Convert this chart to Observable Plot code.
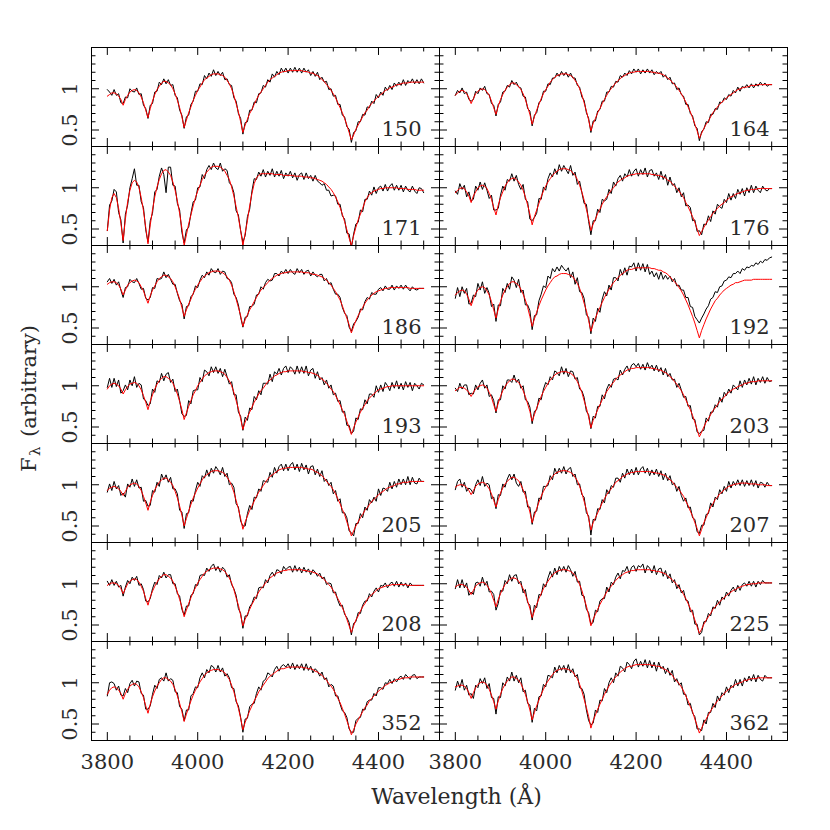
<!DOCTYPE html>
<html><head><meta charset="utf-8">
<script src="https://cdn.jsdelivr.net/npm/d3@7"></script>
<script src="https://cdn.jsdelivr.net/npm/@observablehq/plot@0.6"></script>
<style>html,body{margin:0;padding:0;background:#fff}</style>
</head><body><div id="chart"></div>
<script>
// Panel names, in reading order (left/right, top to bottom)
const panelNames = ["150","164","171","176","186","192","193","203","205","207","208","225","352","362"];
// Both spectra are sampled every 5 Å from 3800 Å to 4500 Å (141 samples); flux in units of 0.01
const lamStart = 3800, lamStep = 5;
const xTickLabels = [3800, 4000, 4200, 4400];
const yTickLabels = [0.5, 1];

// Model fits (red)
const model150 = [91,93,95,95,94,91,87,80,87,92,96,98,99,98,95,90,83,74,65,76,85,93,99,103,107,109,109,107,105,100,94,86,77,66,53,62,71,78,86,92,98,102,107,111,113,115,117,118,118,118,117,116,114,110,106,100,92,82,72,60,47,56,63,70,75,81,87,92,96,100,104,108,111,113,115,117,119,120,121,121,122,122,122,122,122,122,122,121,121,120,119,119,117,116,114,111,109,105,102,98,94,89,83,77,71,64,56,47,38,44,51,56,61,66,71,74,79,82,85,88,91,93,95,98,99,101,102,103,105,105,106,107,107,107,108,108,108,108,108,108,108];
const model164 = [92,95,97,98,97,94,89,82,88,94,97,99,100,99,96,92,85,77,69,79,87,93,98,102,105,107,107,105,103,99,94,87,78,69,57,66,74,81,88,94,99,103,108,111,114,116,117,118,118,118,117,116,114,110,106,100,93,83,73,62,49,58,64,71,76,82,87,92,97,100,104,107,110,112,115,116,118,119,120,120,121,121,121,121,121,121,121,120,120,119,119,118,117,115,113,111,108,105,102,98,94,89,84,78,72,65,57,49,40,46,52,57,61,66,71,74,78,81,84,86,89,91,93,95,97,99,100,101,102,102,103,104,104,104,105,105,105,105,105,105,105];
const model171 = [48,73,88,93,88,75,57,36,62,83,97,106,109,107,100,88,72,52,32,55,73,89,101,110,117,121,122,119,115,107,97,84,69,51,30,43,56,67,78,88,96,103,110,115,119,122,125,126,126,126,125,123,120,115,110,101,90,77,64,48,30,45,60,78,93,105,112,115,117,117,117,117,117,117,116,116,116,116,115,115,115,115,115,114,114,114,114,113,113,113,112,112,111,110,109,108,106,104,101,98,94,89,83,76,68,59,49,39,30,42,52,61,68,75,83,88,92,94,96,97,98,99,99,100,100,100,100,100,100,99,99,99,99,98,98,98,98,97,97,97,97];
const model176 = [94,97,99,100,99,95,90,82,90,95,100,102,103,102,99,93,86,76,67,79,88,95,102,106,110,111,112,110,107,103,97,89,79,68,55,65,73,81,89,96,102,107,111,115,118,120,122,123,123,123,122,121,118,115,110,103,95,85,74,62,48,56,62,69,74,80,85,89,93,97,100,104,107,109,111,112,114,115,116,116,117,117,117,117,117,117,117,116,116,115,115,114,113,112,109,108,105,102,99,96,92,88,82,77,71,65,58,50,42,47,52,57,61,65,69,72,75,78,80,82,85,87,89,90,92,93,94,95,96,97,97,98,98,98,99,99,99,99,99,99,99];
const model186 = [103,105,106,106,105,102,97,90,96,102,105,107,108,107,105,100,95,87,80,89,96,101,106,110,112,114,114,112,110,106,100,93,85,75,64,72,79,85,92,97,102,106,110,113,115,117,118,119,119,119,118,117,115,112,108,102,94,85,75,65,52,60,66,72,77,82,87,92,96,99,102,105,108,110,112,114,115,116,117,117,118,118,118,118,118,118,118,117,117,117,116,115,115,114,113,112,110,108,105,102,98,94,89,84,77,69,62,54,44,52,59,65,70,75,80,84,87,90,92,94,95,96,97,98,98,99,99,99,99,99,99,99,99,99,98,98,98,98,98,98,98];
const model192 = [90,93,95,96,95,91,85,77,85,92,96,99,100,99,95,90,82,72,62,73,82,90,96,100,104,106,106,104,102,97,91,84,75,64,52,61,69,77,84,90,96,101,105,109,112,113,115,116,116,116,115,114,112,108,104,98,90,80,71,59,46,55,62,69,75,81,87,92,97,101,105,108,111,114,116,118,120,121,121,122,123,123,123,123,123,123,123,122,122,121,120,120,118,117,115,112,109,106,103,99,95,90,84,78,71,64,56,47,38,47,54,61,67,73,78,83,86,90,93,96,98,100,102,103,105,105,106,107,108,108,108,108,109,109,109,109,109,109,109,109,109];
const model193 = [96,100,102,103,102,100,96,90,95,99,102,103,104,103,100,95,88,80,71,81,89,96,102,106,109,111,111,109,107,103,97,90,81,71,59,67,75,82,89,94,100,104,108,112,114,116,117,118,118,118,117,116,114,110,106,100,92,82,72,60,47,56,62,68,74,80,85,90,94,97,101,105,107,109,112,113,115,116,117,117,118,118,118,118,118,118,118,117,117,116,116,115,114,113,110,108,106,103,100,96,93,88,83,77,71,65,57,49,41,49,56,62,68,73,77,82,85,88,90,93,95,96,97,98,99,99,100,100,100,100,100,100,100,100,100,100,100,100,100,100,100];
const model203 = [94,96,98,98,97,95,92,87,92,96,99,100,101,100,97,92,86,77,69,79,87,94,99,103,106,108,108,106,104,100,94,87,78,69,57,65,73,80,87,93,98,103,107,110,113,115,116,117,117,117,116,115,113,110,105,99,92,82,73,62,49,58,64,71,77,83,88,93,97,101,104,108,111,113,115,117,119,120,121,121,122,122,122,122,122,122,122,121,121,120,119,119,117,116,114,111,109,105,102,98,94,89,83,77,71,64,56,47,38,44,50,56,60,65,70,73,77,81,84,86,90,92,94,96,97,99,100,101,103,103,104,105,105,105,106,106,106,106,106,106,106];
const model205 = [93,96,97,98,97,95,92,87,92,97,100,101,102,101,98,93,86,78,69,79,87,94,99,103,106,108,108,106,103,99,92,84,74,63,50,59,68,76,84,90,96,101,106,110,112,114,116,117,117,117,116,115,113,109,105,99,91,81,71,59,46,55,62,69,74,80,86,91,95,99,103,107,110,112,114,116,118,119,120,120,121,121,121,121,121,121,121,120,120,119,119,118,116,115,113,111,108,104,101,98,94,89,83,77,70,64,55,47,38,44,50,55,60,64,69,72,76,80,82,85,88,90,92,94,96,97,98,99,101,101,102,103,103,103,104,104,104,104,104,104,104];
const model207 = [97,99,100,100,99,97,93,88,93,98,101,102,103,102,99,95,89,81,73,82,90,96,101,104,107,109,109,107,105,100,94,87,77,67,54,63,71,79,86,92,97,102,106,110,113,115,116,117,117,117,116,115,113,109,105,98,90,80,70,59,45,54,60,66,72,78,83,88,92,95,99,103,105,107,110,111,113,114,115,115,116,116,116,116,116,116,116,115,115,114,114,113,112,111,108,106,104,100,97,94,90,86,80,75,68,62,54,47,38,46,54,60,67,73,77,82,85,89,91,94,96,98,99,100,101,101,102,102,102,102,101,101,101,101,100,100,100,100,99,99,99];
const model208 = [98,100,101,101,100,98,94,88,94,100,103,105,106,105,102,97,91,82,74,84,91,97,102,106,109,111,111,109,107,103,97,90,81,72,60,68,76,83,90,95,101,105,109,113,115,117,118,119,119,119,118,117,115,111,107,101,93,83,74,62,49,57,63,69,75,80,85,90,94,97,101,104,107,109,111,113,114,115,116,116,117,117,117,117,117,117,117,116,116,115,115,114,113,112,109,108,105,102,99,96,92,87,82,77,71,65,57,49,41,49,56,61,67,72,76,81,84,87,89,92,94,95,96,97,98,98,99,99,99,99,99,99,99,98,98,98,98,98,98,98,98];
const model225 = [96,98,99,99,98,96,92,87,92,97,100,101,102,101,98,94,88,80,72,81,88,94,99,102,105,107,107,106,103,99,94,87,79,70,59,67,75,82,88,94,99,103,107,111,113,115,116,117,117,117,116,115,113,110,105,99,92,82,73,62,49,57,63,69,75,80,85,90,94,97,101,104,107,109,111,113,114,115,116,116,117,117,117,117,117,117,117,116,116,115,115,114,113,112,109,107,105,102,99,95,92,87,82,76,70,64,56,48,40,45,51,56,60,64,69,72,75,78,81,83,86,88,90,92,93,95,96,97,98,99,99,100,100,100,101,101,101,101,101,101,101];
const model352 = [86,91,94,95,94,91,87,80,87,92,96,98,99,98,95,89,82,72,63,74,83,90,96,100,104,106,106,104,102,98,92,84,75,65,53,62,70,78,85,91,96,101,105,109,112,114,115,116,116,116,115,114,112,108,104,97,89,79,69,57,43,52,59,66,72,78,83,89,93,97,101,105,108,110,112,114,116,117,117,118,119,119,119,119,119,119,119,118,118,117,117,116,114,113,111,109,106,103,99,96,92,87,81,76,69,62,54,46,37,43,50,55,60,65,70,73,78,81,84,87,90,92,94,97,98,100,101,102,104,104,105,106,106,106,107,107,107,107,107,107,107];
const model362 = [95,96,97,97,96,93,88,81,88,94,98,100,101,100,97,92,85,77,68,78,86,93,98,102,105,107,107,105,103,99,93,86,77,67,55,64,72,79,86,92,98,102,106,110,113,115,116,117,117,117,116,115,113,109,105,98,90,80,70,59,45,54,61,68,74,80,86,91,96,100,104,107,110,113,115,117,119,120,120,121,122,122,122,122,122,122,122,121,121,120,120,119,117,116,114,112,109,105,102,99,95,90,84,78,71,65,56,48,39,45,51,56,61,66,70,74,78,81,84,87,90,92,94,96,98,99,100,101,103,103,104,105,105,105,106,106,106,106,106,106,106];

// Observed minus model (black spectrum = model + residual), units of 0.01
const resid150 = [8,3,-3,4,-2,3,-4,2,3,-3,4,-1,-3,3,-2,4,-3,2,-1,4,-3,3,-2,5,-2,3,-3,4,-1,5,-2,3,-3,2,-1,4,-3,3,-1,5,-1,4,-2,5,-1,4,-2,5,-2,3,-1,4,-3,2,-1,4,-3,3,-2,4,-2,3,-3,4,-1,3,-4,2,-1,4,-2,3,-3,5,-1,4,-2,5,-1,4,-3,3,-2,4,-2,3,-3,4,-1,3,-3,2,-2,4,-3,3,-1,4,-3,2,-3,3,-2,4,-3,2,-2,4,-3,3,-2,4,-1,3,-3,4,-2,3,-3,5,-2,3,-3,4,-1,3,-3,4,-2,3,-2,4,-3,3,-1,4,-2,3,-2,4,-1];
const resid164 = [0,3,-2,3,-3,2,-2,3,-1,3,-3,2,-2,4,-2,1,-3,3,-2,2,-3,3,-1,2,-3,3,-2,3,-1,2,-3,3,-2,4,-2,2,-3,2,-2,3,-2,3,-3,2,-1,3,-2,3,-2,2,-3,3,-1,3,-2,2,-3,3,-2,2,-2,3,-3,2,-1,3,-2,4,-1,3,-2,2,-2,4,-1,3,-2,3,-2,4,-1,3,-3,2,-2,3,-2,3,-3,2,-1,3,-3,2,-2,3,-2,2,-3,3,-1,2,-3,3,-2,2,-2,3,-3,2,-1,3,-2,3,-2,2,-3,3,-1,3,-2,2,-2,3,-2,3,-3,2,-1,3,-2,2,-3,2,-2,3,-1,2,-2];
const resid171 = [0,6,-4,5,7,-5,4,-3,6,-4,3,5,14,-4,3,-5,4,-3,2,5,-4,6,-3,4,7,-5,-28,6,10,-4,5,-3,4,-5,3,6,-4,2,5,-3,4,-2,6,-4,3,5,-3,4,-2,-4,5,-3,3,6,-4,2,4,-5,3,0,4,-3,5,-4,3,6,-2,4,-3,5,-4,3,-2,6,-3,4,-2,5,-4,3,-1,5,-3,4,-5,2,4,-3,5,-2,3,-4,4,-2,-3,-5,-1,-7,-4,-8,-3,1,-3,4,-2,3,-4,5,-3,2,4,-3,5,-4,3,-2,4,-3,5,-4,2,3,-3,4,-4,2,5,-3,3,-2,4,-4,3,-1,-3,4,-2,-4,3,2,-3,0];
const resid176 = [2,-5,6,-2,4,-6,5,2,-4,7,-3,5,-5,4,-2,-6,5,-3,6,-4,3,7,-5,4,-2,6,-4,5,-3,-5,7,-3,4,-6,5,-1,-4,6,-3,5,-5,4,7,-2,5,-4,6,-3,4,-1,-5,6,-3,4,-6,5,-1,-4,6,-3,-5,4,-2,5,-4,6,-1,-3,5,-4,7,-2,4,6,-3,5,-1,7,-2,4,6,-3,5,-1,7,-4,4,6,-2,3,-5,6,-3,4,-6,5,-2,3,-5,4,-3,6,-4,2,5,-5,3,-3,6,-4,4,-2,5,-6,3,-4,5,-1,-5,4,-3,6,-4,3,-5,5,-2,4,-6,3,-3,5,-4,4,-2,-5,3,-1,-3];
const resid186 = [3,5,-2,3,-3,4,-1,-3,3,-2,4,-1,-3,3,-1,-3,3,-1,4,-2,3,-3,4,-1,-2,4,-3,3,-1,-3,3,-1,-2,4,-3,4,-2,3,-1,4,-3,2,4,-2,3,-3,4,-1,-2,3,-3,2,3,-2,1,3,-3,2,3,-2,-1,3,-2,4,-1,-3,3,-1,4,-2,3,4,-1,-2,4,2,-2,3,-1,4,-2,3,-1,-3,4,-1,3,-2,2,3,-3,3,-1,-2,2,3,-3,2,-2,3,-1,-3,2,3,-2,-1,3,-3,2,3,-1,-2,3,-3,2,3,-2,3,-1,-3,2,3,-2,3,-1,-2,3,-3,2,-1,3,-2,3,-1,-3,2,-1,-2];
const resid192 = [-4,6,-7,4,-3,7,-6,3,5,-4,8,-3,6,-7,4,2,-6,7,-4,5,-5,8,-3,4,-7,6,2,-5,7,-4,5,-6,3,7,-4,4,-3,6,7,11,3,12,5,13,6,11,4,10,6,3,8,-3,6,-5,7,-4,3,6,-5,4,-3,7,-4,5,-6,4,7,-3,5,-5,6,3,-4,7,-2,5,-6,4,3,7,-4,6,-3,5,-5,4,-8,-3,-10,-4,-11,-2,-9,-3,-6,1,-3,4,-2,3,1,6,3,9,5,11,8,13,18,15,13,12,10,12,9,11,7,10,8,11,10,12,9,13,11,14,10,15,12,16,15,18,16,20,18,22,20,24,23,26,27];
const resid193 = [2,9,-4,6,-3,7,-5,4,6,-4,5,-3,7,-5,3,6,-4,2,5,-3,7,-4,4,-2,6,-5,3,7,-3,5,-4,6,1,-5,4,-3,7,-4,5,1,-5,6,-3,7,3,-4,6,-2,5,-3,4,-5,6,1,-4,5,-3,7,-4,3,-1,6,-4,5,-3,7,-2,4,-5,6,2,-3,7,-4,5,1,6,-3,4,7,-2,5,2,-4,6,-3,5,-2,7,-4,3,6,-5,4,-3,2,-5,4,-3,5,-4,3,-2,5,-3,4,-5,3,1,-4,5,-3,4,-2,6,-4,5,2,-4,7,-3,5,-4,6,1,-5,4,-3,6,-4,3,-5,5,-2,4,-6,3,0,-4,3,1,-3];
const resid203 = [3,-3,5,-2,4,6,-3,4,-2,5,-4,3,6,-3,4,-5,3,5,-2,4,-4,6,-3,4,1,-4,5,-2,4,-3,6,-4,3,5,-3,4,-2,5,-4,3,6,-2,4,-3,5,1,-4,6,-3,4,-5,3,4,-2,5,-3,2,4,-4,3,-1,5,-3,4,-2,6,-4,3,5,-3,4,1,-4,6,-2,3,5,-3,4,6,1,5,-2,4,-3,6,-1,4,-3,5,-2,3,-4,5,-3,4,-2,3,-4,5,1,-3,4,-2,5,-4,3,-3,4,1,-4,5,-3,3,-2,4,-3,5,-4,6,-2,4,-3,5,1,-4,6,-3,4,-2,5,-3,6,-4,3,-2,5,-3,4,-1];
const resid205 = [-2,5,-4,6,-2,4,-5,3,-7,4,-3,6,-4,5,-2,4,-6,3,5,-4,6,-3,4,-5,7,-2,4,-3,6,-4,3,5,-5,4,-3,6,-2,5,-4,3,7,-3,5,-2,6,-4,4,-3,5,1,-4,6,-3,5,-5,3,6,-4,2,-3,4,-5,3,6,-4,5,-2,4,-3,6,1,-4,5,-3,7,-2,4,6,-3,5,-4,3,6,-3,4,-5,5,-2,4,-6,3,5,-4,4,-3,6,-4,3,-2,5,-5,4,-3,6,-4,2,5,-3,4,-6,3,-2,5,-4,4,-3,6,-2,3,-5,7,-3,4,1,-4,6,-3,5,-4,6,-2,4,-3,7,-4,5,-2,-3,4];
const resid207 = [-3,5,7,-3,4,-5,3,6,-4,2,5,-3,7,-4,3,5,-6,4,-2,6,-3,5,-4,3,6,-3,4,-5,-7,4,-3,5,-4,6,-2,4,-3,5,-4,6,1,-3,5,-4,7,-2,4,-3,5,-4,3,6,-3,4,-5,3,-2,5,-4,3,-6,4,-3,5,-2,4,-5,6,-3,4,-2,5,3,-4,4,-3,6,-2,4,-3,5,-4,3,6,-2,4,-5,3,-3,5,-4,4,-6,3,-3,5,-4,2,-5,4,-3,-6,4,-3,5,-2,4,-4,3,5,-3,4,-2,5,-4,3,-3,5,-2,4,-4,6,-3,4,-2,5,-3,4,-4,3,-2,5,-3,4,-4,3,2,-3,4,0];
const resid208 = [5,-2,4,-3,3,-2,4,-3,2,4,-3,3,-2,4,-4,3,2,-3,4,-2,3,5,-3,4,-2,3,-4,2,4,-3,3,-2,4,-3,2,5,-3,3,-2,4,-3,5,2,-3,4,-2,3,5,-3,2,-4,3,2,-3,4,-2,1,3,-4,2,-3,4,-2,3,1,4,-3,5,2,-2,4,-3,3,5,-2,4,2,-3,5,1,3,4,-3,5,-2,3,-4,4,-2,3,-4,3,1,-3,4,-2,3,-3,2,4,-3,3,-2,-4,3,-2,2,4,-3,3,-2,4,-3,2,3,-2,4,-3,2,3,-4,3,1,4,-3,2,3,-2,4,-3,3,-2,2,-3,3,0];
const resid225 = [-2,7,-4,6,-3,5,-6,3,-5,4,2,-4,6,-3,5,-4,3,7,-4,-5,4,-3,5,-2,6,-4,3,5,-3,4,-5,6,-2,4,-3,7,-4,5,-2,6,-3,4,8,-3,6,-4,5,-2,4,-3,6,2,-4,5,-3,4,-6,3,-4,3,2,-4,5,-3,4,2,-3,6,-4,5,-2,4,6,-3,5,2,7,-3,4,6,-2,5,3,7,-4,5,2,-3,6,-4,3,5,-4,4,-3,5,-4,3,-5,4,-3,5,-2,3,-4,4,-5,3,-2,-4,3,-2,4,-3,3,-2,5,-4,3,-2,4,-3,2,4,-3,3,-4,2,3,-2,4,-3,3,-4,2,-2,3,0];
const resid352 = [-2,9,7,4,-3,5,-2,4,6,-4,3,5,-3,4,6,-2,3,-4,5,-2,3,7,-3,4,2,-4,6,-2,3,5,-3,4,-4,3,1,5,-3,6,2,4,-2,5,7,-3,4,-2,6,3,-3,5,-2,4,-4,3,2,-3,4,-2,3,1,-3,4,-2,5,2,-3,4,6,-2,5,3,7,2,-3,4,6,-2,3,5,1,4,-2,5,-3,3,-2,4,-3,5,-2,3,-4,3,1,-3,4,-2,3,-4,2,4,-3,3,-2,-3,2,4,-2,3,-3,4,2,-2,3,-3,4,1,-2,3,-3,4,2,-2,3,1,4,-2,3,-3,2,3,-2,4,1,-3,2,3,-2];
const resid362 = [-4,6,-3,7,-5,4,-3,6,-7,3,-4,5,-2,6,-4,7,-3,4,-6,5,-4,7,-2,5,-3,6,-5,4,-3,7,-4,5,-2,6,-3,5,-6,4,-2,6,-3,7,2,-4,6,-3,5,-2,4,-5,6,-3,4,-2,5,-4,3,6,-3,-5,4,-3,6,-4,5,-2,7,-3,4,6,-4,5,-2,7,3,-4,6,2,-3,5,7,-3,4,-2,6,-4,5,-3,4,-6,5,-2,3,-5,4,-3,6,-4,3,-2,5,-4,2,-5,4,-2,3,-4,5,-3,4,-6,3,-2,5,-4,6,-3,4,-2,5,-4,3,-2,6,-3,4,-5,3,-2,4,-3,5,-4,3,-2,-4,3,0];

const models = [model150,model164,model171,model176,model186,model192,model193,model203,model205,model207,model208,model225,model352,model362];
const resids = [resid150,resid164,resid171,resid176,resid186,resid192,resid193,resid203,resid205,resid207,resid208,resid225,resid352,resid362];

const panels = panelNames.map((name, k) => ({name, col: k % 2, row: Math.floor(k / 2)}));
const fits = [], spectra = [];
panels.forEach((p, k) => {
  models[k].forEach((m, i) => {
    const lam = lamStart + lamStep * i;
    fits.push({...p, lam, flux: m / 100});
    spectra.push({...p, lam, flux: (m + (resids[k][i] ?? 0)) / 100});
  });
});

// Layout
const W = 830, H = 830, mL = 90, mR = 43, mT = 45, mB = 89;
const xDomain = [3765, 4535], yDomain = [0.3, 1.5];
const cellW = (W - mL - mR) / 2, cellH = (H - mT - mB) / 7;
const xPerPx = (xDomain[1] - xDomain[0]) / cellW, yPerPx = (yDomain[1] - yDomain[0]) / cellH;
const majorLen = 8, minorLen = 4.5;

const xMinor = d3.range(3800, 4501, 50);
const yMinor = d3.range(3, 16).map(d => d / 10);
const xTicks = panels.flatMap(p => xMinor.map(v => ({...p, v, len: v % 200 === 0 ? majorLen : minorLen})));
const yTicks = panels.flatMap(p => yMinor.map(v => ({...p, v, len: Math.round(v * 10) % 5 === 0 ? majorLen : minorLen})));
const yLabs = panels.filter(p => p.col === 0).flatMap(p => yTickLabels.map(v => ({...p, v})));
const xLabs = panels.filter(p => p.row === 6).flatMap(p => xTickLabels.map(v => ({...p, v})));
const txt = "#2a2a2a", font = 21;

const chart = Plot.plot({
  width: W, height: H,
  marginLeft: mL, marginRight: mR, marginTop: mT, marginBottom: mB,
  x: {domain: xDomain, axis: null},
  y: {domain: yDomain, axis: null},
  fx: {domain: [0, 1], padding: 0, axis: null},
  fy: {domain: [0, 1, 2, 3, 4, 5, 6], padding: 0, axis: null},
  style: {background: "white", fontFamily: "'DejaVu Serif', serif"},
  marks: [
    Plot.frame({stroke: "#000", strokeWidth: 1}),
    Plot.ruleX(xTicks, {fx: "col", fy: "row", x: "v", y1: yDomain[0], y2: d => yDomain[0] + d.len * yPerPx, stroke: "#000"}),
    Plot.ruleX(xTicks, {fx: "col", fy: "row", x: "v", y1: d => yDomain[1] - d.len * yPerPx, y2: yDomain[1], stroke: "#000"}),
    Plot.ruleY(yTicks, {fx: "col", fy: "row", y: "v", x1: xDomain[0], x2: d => xDomain[0] + d.len * xPerPx, stroke: "#000"}),
    Plot.ruleY(yTicks, {fx: "col", fy: "row", y: "v", x1: d => xDomain[1] - d.len * xPerPx, x2: xDomain[1], stroke: "#000"}),
    Plot.line(spectra, {fx: "col", fy: "row", x: "lam", y: "flux", z: "name", stroke: "#000", strokeWidth: 1, clip: true}),
    Plot.line(fits, {fx: "col", fy: "row", x: "lam", y: "flux", z: "name", stroke: "#ff0000", strokeWidth: 1, clip: true}),
    Plot.text(panels, {fx: "col", fy: "row", text: "name", frameAnchor: "bottom-right", dx: -18, dy: -11, textAnchor: "end", lineAnchor: "bottom", fontSize: font, fill: txt}),
    Plot.text(yLabs, {fx: "col", fy: "row", x: xDomain[0], y: "v", text: d => String(d.v), rotate: -90, dx: -21, textAnchor: "middle", lineAnchor: "middle", fontSize: font, fill: txt}),
    Plot.text(xLabs, {fx: "col", fy: "row", x: "v", y: yDomain[0], text: d => String(d.v), dy: 22, lineAnchor: "middle", fontSize: font, fill: txt}),
    Plot.text([{col: 1, row: 6, t: "Wavelength (Å)"}], {fx: "col", fy: "row", x: xDomain[0], y: yDomain[0], text: "t", dx: 17, dy: 56, lineAnchor: "middle", fontSize: 22, fill: txt}),
    Plot.text([{col: 0, row: 3, t: "F"}], {fx: "col", fy: "row", x: xDomain[0], y: 0.9, text: "t", rotate: -90, textAnchor: "start", lineAnchor: "middle", dx: -62, dy: 78, fontSize: font, fill: txt}),
    Plot.text([{col: 0, row: 3, t: "λ"}], {fx: "col", fy: "row", x: xDomain[0], y: 0.9, text: "t", rotate: -90, textAnchor: "start", lineAnchor: "middle", dx: -56, dy: 62, fontSize: 15, fill: txt}),
    Plot.text([{col: 0, row: 3, t: "(arbitrary)"}], {fx: "col", fy: "row", x: xDomain[0], y: 0.9, text: "t", rotate: -90, textAnchor: "start", lineAnchor: "middle", dx: -62, dy: 43, fontSize: font, fill: txt})
  ]
});
document.getElementById("chart").append(chart);
</script>
</body></html>
